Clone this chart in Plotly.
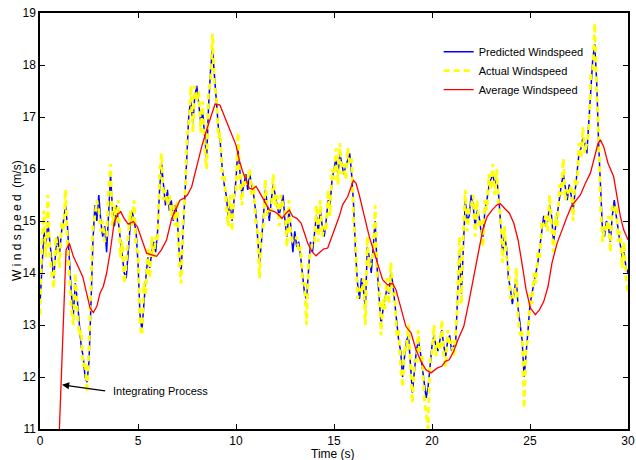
import plotly.graph_objects as go

# sampling grid (s)
time_s = [round(i * 0.1, 1) for i in range(301)]

predicted = [
    13.4, 14.2, 14.8, 14.5, 15.0, 14.6, 14.2, 13.9, 14.4, 14.7,
    14.4, 14.8, 15.0, 15.3, 14.9, 14.2, 13.6, 13.2, 13.8, 13.5,
    13.1, 12.6, 12.4, 12.0, 11.9, 12.3, 13.4, 14.6, 15.3, 15.0,
    15.5, 15.0, 14.7, 14.9, 14.4, 15.3, 15.9, 15.2, 14.9, 15.3,
    15.0, 14.6, 14.3, 14.0, 13.9, 14.5, 14.9, 15.2, 15.0, 14.8,
    14.2, 13.2, 12.9, 13.5, 13.9, 14.3, 14.1, 14.4, 14.6, 14.4,
    14.8, 15.6, 16.1, 15.7, 15.3, 15.6, 15.2, 15.4, 15.0, 15.3,
    15.1, 14.4, 14.0, 14.8, 15.7, 16.3, 17.1, 17.3, 16.9, 17.4,
    17.6, 17.2, 16.9, 17.1, 16.7, 16.2, 17.2, 17.9, 18.3, 17.8,
    17.2, 16.8, 16.5, 16.0, 15.7, 15.5, 15.1, 15.3, 15.0, 15.4,
    15.8, 16.4, 16.0, 15.5, 15.7, 15.9, 15.6, 15.9, 15.7, 15.5,
    15.2, 14.6, 14.2, 14.6, 15.1, 15.6, 15.3, 15.0, 15.4, 15.7,
    15.5, 15.3, 15.1, 15.3, 15.5, 15.0, 14.7, 15.2, 14.9, 14.4,
    14.8, 14.5, 14.6, 14.3, 14.0, 13.6, 13.5, 14.0, 14.6, 14.4,
    14.8, 15.1, 14.8, 15.2, 14.9, 14.7, 15.0, 15.4, 15.3, 15.8,
    16.0, 16.2, 15.9, 16.3, 16.1, 15.9, 16.05, 16.2, 16.3, 15.9,
    15.3, 14.4, 13.8, 13.5, 13.9, 13.7, 13.3, 14.5, 14.3, 14.0,
    14.6, 15.0, 14.1, 13.6, 13.0, 13.3, 13.5, 13.7, 13.6, 14.0,
    13.8, 13.4, 13.0, 12.7, 12.5, 12.0, 12.4, 12.7, 12.8, 12.3,
    11.7, 12.1, 12.5, 12.7, 12.5, 12.2, 11.9, 11.6, 11.8, 12.2,
    12.6, 12.8, 12.6, 12.5, 12.7, 12.9, 12.6, 12.4, 12.7, 12.8,
    12.5, 12.6, 12.6, 13.6, 14.4, 13.6, 14.6, 15.4, 15.0, 15.1,
    15.5, 15.3, 14.9, 15.2, 15.1, 14.8, 14.7, 15.2, 15.4, 15.65,
    15.8, 15.9, 15.7, 15.8, 15.5, 14.9, 14.4, 14.7, 14.5, 13.9,
    13.7, 13.4, 13.7, 13.9, 13.3, 13.0, 12.7, 12.0, 12.4, 12.9,
    13.4, 13.6, 13.8, 14.0, 14.2, 14.5, 14.8, 15.1, 14.9, 15.0,
    15.3, 15.1, 14.6, 14.9, 15.1, 15.5, 15.7, 15.9, 15.6, 15.4,
    15.7, 15.5, 15.2, 15.6, 15.9, 16.3, 16.4, 16.6, 16.5, 16.3,
    16.9, 17.6, 18.1, 18.4, 17.7, 16.5, 15.5, 14.8, 14.7, 15.0,
    14.9, 14.6, 15.1, 15.4, 15.1, 14.8, 14.6, 14.3, 14.4, 14.1,
    14.0,
]

actual = [
    13.2, 14.6, 15.2, 14.3, 15.5, 14.4, 14.0, 13.7, 14.7, 14.5,
    14.1, 15.0, 14.8, 15.6, 14.6, 13.9, 13.3, 13.0, 14.0, 13.3,
    12.8, 12.9, 12.2, 12.3, 11.7, 12.6, 13.7, 14.9, 15.1, 15.4,
    15.2, 14.8, 15.0, 14.6, 14.7, 15.6, 16.1, 14.9, 15.3, 15.0,
    15.4, 14.3, 14.6, 13.8, 14.2, 14.7, 15.2, 14.9, 15.4, 14.5,
    14.4, 13.0, 12.8, 13.8, 13.6, 14.5, 13.9, 14.7, 14.3, 14.7,
    14.6, 15.9, 16.3, 15.4, 15.6, 15.3, 15.5, 15.1, 15.3, 14.9,
    15.4, 14.2, 13.8, 15.0, 15.5, 16.6, 16.9, 17.6, 16.7, 17.6,
    17.3, 17.5, 16.7, 17.3, 16.4, 16.0, 17.5, 17.7, 18.6, 17.6,
    17.4, 16.6, 16.7, 15.8, 15.9, 15.3, 14.9, 15.5, 14.8, 15.6,
    15.6, 16.7, 15.8, 15.3, 15.9, 15.7, 15.8, 16.0, 15.5, 15.7,
    15.0, 14.8, 13.9, 14.8, 14.9, 15.8, 15.1, 15.2, 15.2, 15.9,
    15.3, 15.5, 14.9, 15.5, 15.3, 15.2, 14.5, 15.4, 14.7, 14.6,
    14.6, 14.7, 14.4, 14.5, 13.8, 13.8, 13.0, 14.2, 14.4, 14.6,
    14.6, 15.3, 14.6, 15.4, 14.7, 14.9, 14.8, 15.6, 15.1, 16.0,
    15.8, 16.4, 15.7, 16.5, 15.9, 16.1, 15.8, 16.4, 16.1, 16.2,
    15.0, 14.6, 13.5, 13.7, 13.6, 13.9, 13.0, 14.7, 14.1, 14.2,
    14.4, 15.3, 13.9, 13.8, 12.8, 13.5, 13.3, 13.9, 13.4, 14.2,
    13.6, 13.6, 12.8, 12.9, 12.2, 11.8, 12.6, 12.5, 13.0, 12.1,
    11.5, 12.3, 12.3, 12.9, 12.3, 12.4, 11.6, 11.3, 11.0, 12.4,
    12.4, 13.0, 12.4, 12.7, 12.5, 13.1, 12.4, 12.2, 12.9, 12.6,
    12.7, 12.4, 12.8, 13.4, 14.7, 13.4, 14.8, 15.6, 14.8, 15.3,
    15.3, 15.5, 14.7, 15.4, 14.9, 15.0, 14.5, 15.4, 15.2, 15.9,
    15.6, 16.1, 15.5, 16.0, 15.3, 15.1, 14.2, 14.9, 14.3, 14.1,
    13.5, 13.6, 13.5, 14.1, 13.1, 12.8, 12.9, 11.4, 12.6, 12.7,
    13.6, 13.4, 14.0, 13.8, 14.4, 14.3, 15.0, 14.9, 15.1, 14.8,
    15.5, 14.9, 14.4, 15.1, 14.9, 15.7, 15.5, 16.2, 15.4, 15.6,
    15.5, 15.7, 15.0, 15.8, 15.7, 16.5, 16.2, 16.8, 16.3, 16.5,
    16.7, 17.8, 17.9, 18.8, 17.5, 16.7, 15.3, 14.6, 14.9, 14.8,
    15.1, 14.4, 15.3, 15.2, 15.3, 14.6, 14.8, 14.1, 14.6, 13.9,
    13.6,
]

avg_time = [
    0.98, 1.33, 1.5, 1.7, 1.95, 2.18, 2.38, 2.55, 2.72, 2.9,
    3.06, 3.23, 3.4, 3.57, 3.78, 3.95, 4.12, 4.29, 4.5, 4.76,
    4.97, 5.19, 5.44, 5.7, 5.95, 6.2, 6.46, 6.72, 6.97, 7.14,
    7.35, 7.52, 7.74, 7.99, 8.25, 8.5, 8.76, 8.93, 9.18, 9.44,
    9.69, 10.0, 10.17, 10.34, 10.51, 10.68, 10.85, 11.02, 11.19, 11.36,
    11.53, 11.7, 11.96, 12.13, 12.35, 12.55, 12.72, 12.89, 13.1, 13.32,
    13.49, 13.66, 13.88, 14.08, 14.25, 14.46, 14.68, 14.85, 15.02, 15.27,
    15.44, 15.7, 15.87, 15.99, 16.12, 16.29, 16.55, 16.8, 17.06, 17.28,
    17.48, 17.74, 17.99, 18.16, 18.42, 18.67, 18.93, 19.18, 19.44, 19.69,
    19.95, 20.26, 20.51, 20.68, 20.88, 21.1, 21.36, 21.62, 21.87, 22.13,
    22.38, 22.59, 22.81, 23.06, 23.32, 23.49, 23.71, 23.95, 24.17, 24.39,
    24.59, 24.8, 25.02, 25.27, 25.48, 25.7, 25.92, 26.12, 26.38, 26.63,
    26.89, 27.11, 27.35, 27.57, 27.82, 28.08, 28.3, 28.47, 28.59, 28.76,
    28.98, 29.27, 29.44, 29.61, 29.78, 30.0,
]
average = [
    10.9, 14.45, 14.57, 14.32, 14.12, 13.93, 13.61, 13.33, 13.24, 13.36,
    13.61, 13.74, 14.0, 14.38, 14.96, 15.12, 15.18, 15.05, 14.94, 14.99,
    14.89, 14.64, 14.38, 14.35, 14.32, 14.45, 14.64, 15.05, 15.24, 15.4,
    15.44, 15.5, 15.66, 16.04, 16.43, 16.75, 17.07, 17.25, 17.23, 17.0,
    16.75, 16.46, 16.17, 15.95, 15.79, 15.63, 15.61, 15.67, 15.56, 15.44,
    15.33, 15.21, 15.18, 15.14, 15.05, 15.15, 15.21, 15.09, 15.05, 14.96,
    14.77, 14.57, 14.41, 14.33, 14.39, 14.46, 14.48, 14.64, 14.83, 15.09,
    15.31, 15.47, 15.66, 15.78, 15.73, 15.5, 15.09, 14.7, 14.38, 14.12,
    13.87, 13.77, 13.8, 13.68, 13.29, 12.97, 12.85, 12.53, 12.3, 12.14,
    12.08, 12.17, 12.21, 12.3, 12.33, 12.49, 12.75, 12.97, 13.42, 13.93,
    14.41, 14.83, 15.08, 15.21, 15.31, 15.33, 15.24, 15.15, 14.96, 14.64,
    14.19, 13.68, 13.33, 13.2, 13.29, 13.45, 13.74, 14.19, 14.57, 14.83,
    15.08, 15.28, 15.4, 15.5, 15.72, 15.92, 16.24, 16.49, 16.56, 16.43,
    16.11, 15.85, 15.47, 15.09, 14.83, 14.64,
]

x_ticks = [0, 5, 10, 15, 20, 25, 30]
y_ticks = [11, 12, 13, 14, 15, 16, 17, 18, 19]

FONT = "Liberation Sans, Arial, sans-serif"

fig = go.Figure()
fig.add_trace(go.Scatter(x=time_s, y=predicted, mode="lines",
                         name="Predicted Windspeed",
                         line=dict(color="#0000ff", width=1.5)))
fig.add_trace(go.Scatter(x=time_s, y=actual, mode="lines",
                         name="Actual Windspeed",
                         line=dict(color="#ffff00", width=2.8, dash="6px,4px")))
fig.add_trace(go.Scatter(x=avg_time, y=average, mode="lines",
                         name="Average Windspeed",
                         line=dict(color="#ff0000", width=1.3)))

axis_common = dict(showline=True, linecolor="black", linewidth=1.5, mirror="ticks",
                   ticks="inside", ticklen=5, tickcolor="black", tickwidth=1,
                   showgrid=False, zeroline=False, automargin=False,
                   tickfont=dict(family=FONT, size=12, color="black"))

fig.update_xaxes(range=[0, 30], tickvals=x_ticks, **axis_common)
fig.update_yaxes(range=[11, 19], tickvals=y_ticks, **axis_common)

# axis titles
fig.add_annotation(x=0.498, y=0, xref="paper", yref="paper", yshift=-25,
                   text="Time (s)", showarrow=False, xanchor="center", yanchor="middle",
                   font=dict(family=FONT, size=12, color="black"))
fig.add_annotation(x=0, y=0.5, xref="paper", yref="paper", xshift=-23,
                   text="W i n d s p e e d  (m/s)", textangle=-90, showarrow=False,
                   xanchor="center", yanchor="middle",
                   font=dict(family=FONT, size=12, color="black"))

# integrating process note
fig.add_annotation(x=1.12, y=11.85, ax=3.4, ay=11.73, axref="x", ayref="y",
                   xref="x", yref="y", text="", showarrow=True,
                   arrowhead=2, arrowsize=1.2, arrowwidth=1.2, arrowcolor="black")
fig.add_annotation(x=3.62, y=11.73, xref="x", yref="y", text="Integrating Process",
                   showarrow=False, xanchor="left", yanchor="middle",
                   font=dict(family=FONT, size=11, color="black"))

fig.update_layout(
    width=636, height=460,
    margin=dict(l=40, r=8, t=13, b=31),
    paper_bgcolor="white", plot_bgcolor="white",
    showlegend=True,
    legend=dict(x=0.678, y=0.942, xanchor="left", yanchor="top",
                bgcolor="rgba(0,0,0,0)", borderwidth=0,
                font=dict(family=FONT, size=11, color="black"),
                itemwidth=30, tracegroupgap=0),
)

fig.write_html("out.html", config={"displayModeBar": False},
               post_script="document.body.style.margin='0px';")
